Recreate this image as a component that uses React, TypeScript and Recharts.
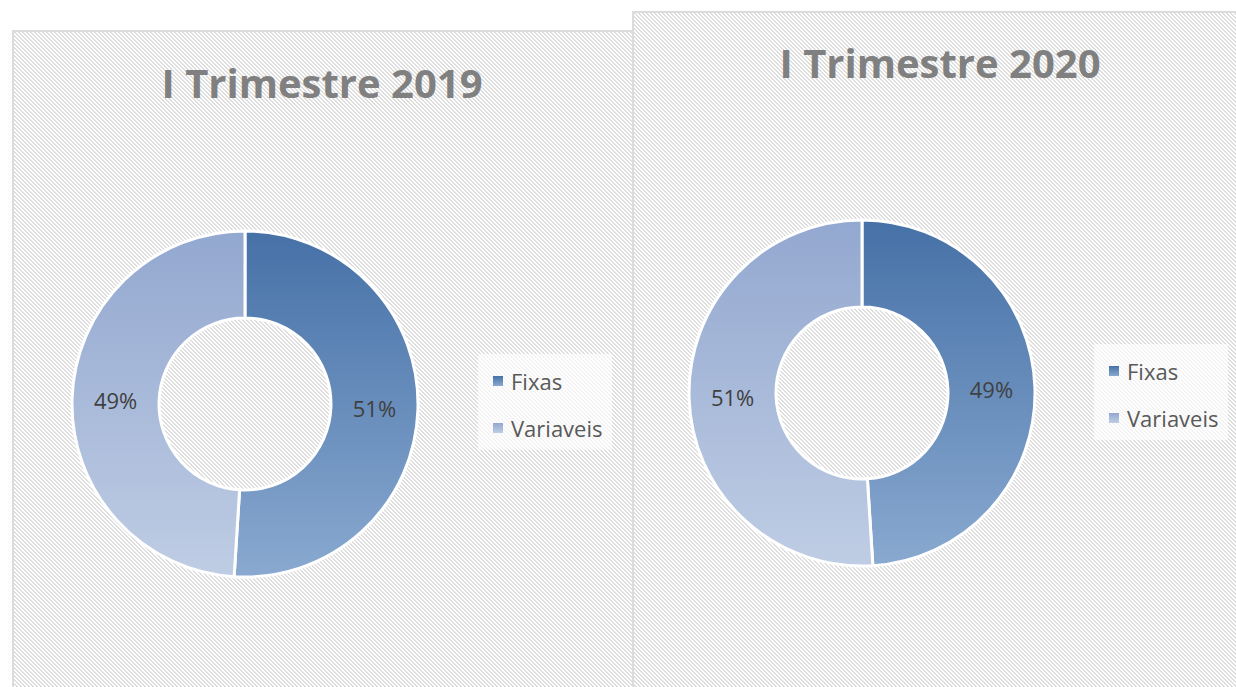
import { Cell, Legend, Pie, PieChart } from "recharts";

const categories = ["Fixas", "Variaveis"];
const values2019 = [51, 49];
const values2020 = [49, 51];
const titles = ["I Trimestre 2019", "I Trimestre 2020"];

// top -> bottom gradient stops per category
const gradientStops = [
  ["#4671a7", "#89a9d0"],
  ["#93a8d0", "#bfcde4"],
];

const FONT = "'Open Sans', 'Noto Sans', sans-serif";
const RAD = Math.PI / 180;

const hatchSvg =
  "<svg xmlns='http://www.w3.org/2000/svg' width='4' height='4' shape-rendering='crispEdges'>" +
  "<path d='M0 0h2v1H0zM1 1h2v1H1zM2 2h2v1H2zM3 3h1v1H3zM0 3h1v1H0z' fill='#dedede'/></svg>";
const hatchUrl = `url("data:image/svg+xml,${encodeURIComponent(hatchSvg)}")`;

type PanelProps = {
  id: string;
  title: string;
  values: number[];
  left: number;
  top: number;
  width: number;
  height: number;
  cx: number;
  cy: number;
  titleX: number;
  titleY: number;
  legendX: number;
  legendY: number;
};

function renderLabel(props: any) {
  const { cx, cy, midAngle, innerRadius, outerRadius, value } = props;
  const r = (innerRadius + outerRadius) / 2;
  const x = cx + r * Math.cos(-midAngle * RAD);
  const y = cy + r * Math.sin(-midAngle * RAD);
  return (
    <text
      x={x}
      y={y}
      textAnchor="middle"
      dominantBaseline="central"
      fill="#404040"
      fontSize={22}
      fontFamily={FONT}
    >
      {`${value}%`}
    </text>
  );
}

function DonutPanel(p: PanelProps) {
  const data = categories.map((name, i) => ({ name, value: p.values[i] }));

  const legendContent = (props: any) => {
    const payload = props.payload || [];
    return (
      <div
        style={{
          width: 134,
          height: 96,
          background: "rgba(255,255,255,0.65)",
          paddingTop: 3,
          boxSizing: "border-box",
        }}
      >
        {payload.map((entry: any, i: number) => (
          <div
            key={entry.value}
            style={{
              height: 47,
              display: "flex",
              alignItems: "center",
              paddingLeft: 15,
              fontFamily: FONT,
              fontSize: 22,
              color: "#595959",
            }}
          >
            <svg width={10} height={10} style={{ marginRight: 8 }}>
              <rect width={10} height={10} fill={`url(#${p.id}-g${i})`} />
            </svg>
            <span>{entry.value}</span>
          </div>
        ))}
      </div>
    );
  };

  return (
    <div
      style={{
        position: "absolute",
        left: p.left,
        top: p.top,
        width: p.width,
        height: p.height,
        border: "2px solid #dcdcdc",
        boxSizing: "border-box",
        backgroundColor: "#ffffff",
        backgroundImage: hatchUrl,
      }}
    >
      <svg
        width={p.width}
        height={110}
        style={{ position: "absolute", left: -2, top: -2 }}
      >
        <text
          x={p.titleX}
          y={p.titleY}
          textAnchor="middle"
          fill="#808080"
          fontSize={40}
          fontWeight={700}
          fontFamily={FONT}
        >
          {p.title}
        </text>
      </svg>
      <div style={{ position: "absolute", left: -2, top: -2 }}>
        <PieChart
          width={p.width}
          height={p.height - 20}
          margin={{ top: 0, right: 0, bottom: 0, left: 0 }}
        >
          <defs>
            {gradientStops.map((stops, i) => (
              <linearGradient key={i} id={`${p.id}-g${i}`} x1="0" y1="0" x2="0" y2="1">
                <stop offset="0%" stopColor={stops[0]} />
                <stop offset="100%" stopColor={stops[1]} />
              </linearGradient>
            ))}
          </defs>
          <Pie
            data={data}
            dataKey="value"
            nameKey="name"
            cx={p.cx}
            cy={p.cy}
            innerRadius={86}
            outerRadius={173}
            startAngle={90}
            endAngle={-270}
            stroke="#ffffff"
            strokeWidth={3}
            label={renderLabel}
            labelLine={false}
            isAnimationActive={false}
          >
            {data.map((d, i) => (
              <Cell key={d.name} fill={`url(#${p.id}-g${i})`} />
            ))}
          </Pie>
          <Legend
            content={legendContent}
            wrapperStyle={{
              left: p.legendX,
              top: p.legendY,
              width: 134,
              height: 96,
              bottom: "auto",
              right: "auto",
            }}
          />
        </PieChart>
      </div>
    </div>
  );
}

export default function App() {
  return (
    <div
      style={{
        position: "absolute",
        left: 0,
        top: 0,
        width: 1236,
        height: 687,
        overflow: "hidden",
        background: "#ffffff",
      }}
    >
      <DonutPanel
        id="q2019"
        title={titles[0]}
        values={values2019}
        left={12}
        top={30}
        width={622}
        height={700}
        cx={233}
        cy={374}
        titleX={310}
        titleY={68}
        legendX={466}
        legendY={324}
      />
      <DonutPanel
        id="q2020"
        title={titles[1]}
        values={values2020}
        left={632}
        top={11}
        width={618}
        height={720}
        cx={230}
        cy={382}
        titleX={308}
        titleY={67}
        legendX={462}
        legendY={333}
      />
    </div>
  );
}
